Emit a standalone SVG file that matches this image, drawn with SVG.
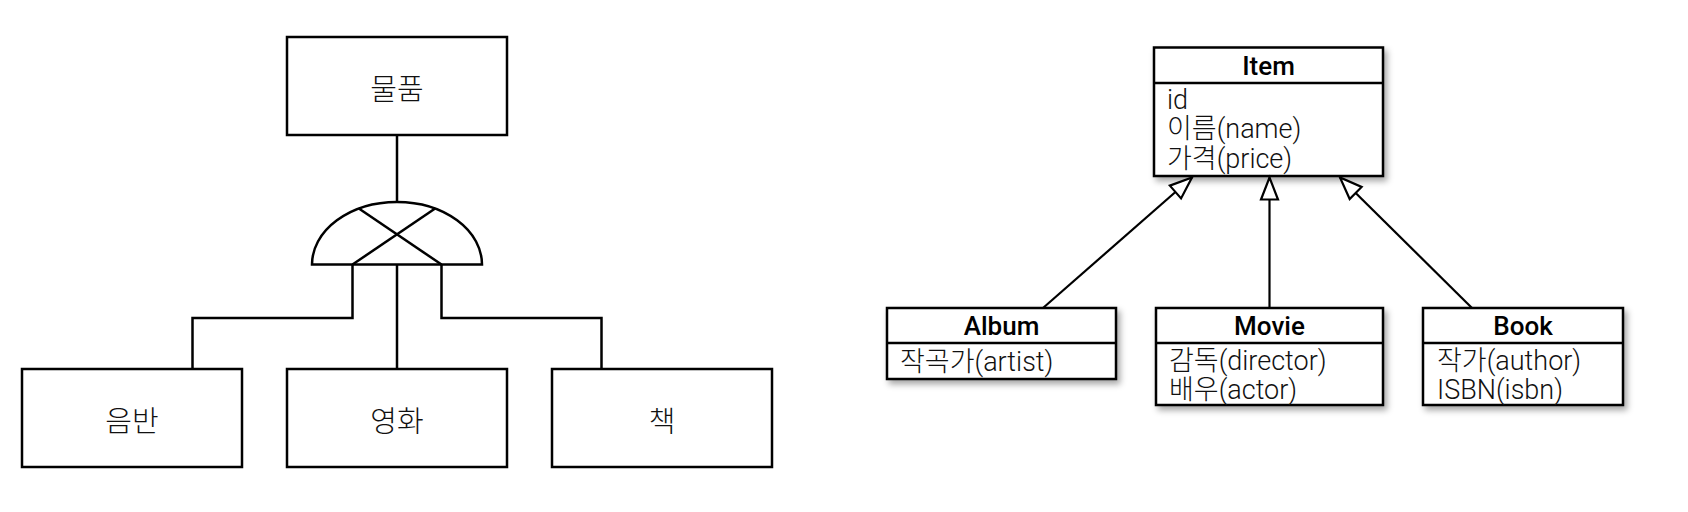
<svg xmlns="http://www.w3.org/2000/svg" width="1688" height="512" viewBox="0 0 1688 512">
  <style>
    .box { fill: #ffffff; stroke: #000000; stroke-width: 2.5; }
    .ln { fill: none; stroke: #000000; stroke-width: 2.5; }
    .ko { font-family: "Noto Sans CJK KR", sans-serif; font-weight: 300; font-size: 29px; fill: #111111; text-anchor: middle; dominant-baseline: central; }
    .uml { fill: #ffffff; stroke: #000000; stroke-width: 2.5; filter: url(#sh); }
    .div { stroke: #000000; stroke-width: 2.5; }
    .hd { font-family: Roboto, "Liberation Sans", "Noto Sans CJK KR", sans-serif; font-weight: 500; font-size: 26px; fill: #000000; text-anchor: middle; }
    .at { font-family: Roboto, "Liberation Sans", "Noto Sans CJK KR", sans-serif; font-weight: 300; font-size: 27px; fill: #111111; }
    .gen { fill: none; stroke: #000000; stroke-width: 2.2; marker-end: url(#tri); }
  </style>
  <defs>
    <filter id="sh" x="-10%" y="-10%" width="130%" height="140%">
      <feDropShadow dx="3" dy="4" stdDeviation="3" flood-color="#000000" flood-opacity="0.35"/>
    </filter>
    <marker id="tri" markerUnits="userSpaceOnUse" markerWidth="30" markerHeight="24" refX="23" refY="9.5" orient="auto" overflow="visible">
      <path d="M1,1 L23,9.5 L1,18 Z" fill="#ffffff" stroke="#000000" stroke-width="2.2" stroke-linejoin="miter"/>
    </marker>
  </defs>

  <!-- Left: ER-style subtype diagram -->
  <g id="connectors-left">
    <line class="ln" x1="397" y1="135" x2="397" y2="202"/>
    <polyline class="ln" points="352.5,264.5 352.5,318 192.5,318 192.5,369"/>
    <line class="ln" x1="397" y1="264.5" x2="397" y2="369"/>
    <polyline class="ln" points="441.5,264.5 441.5,318 601.5,318 601.5,369"/>
  </g>

  <g id="subtype-symbol">
    <path class="box" d="M312,264.5 A85,62.5 0 0 1 482,264.5 Z"/>
    <line class="ln" x1="358.5" y1="208.3" x2="441.5" y2="264.5"/>
    <line class="ln" x1="435.5" y1="208.3" x2="352.5" y2="264.5"/>
  </g>

  <g id="node-goods">
    <rect class="box" x="287" y="37" width="220" height="98"/>
    <text class="ko" x="397" y="87">물품</text>
  </g>
  <g id="node-album-ko">
    <rect class="box" x="22" y="369" width="220" height="98"/>
    <text class="ko" x="132" y="419">음반</text>
  </g>
  <g id="node-movie-ko">
    <rect class="box" x="287" y="369" width="220" height="98"/>
    <text class="ko" x="397" y="419">영화</text>
  </g>
  <g id="node-book-ko">
    <rect class="box" x="552" y="369" width="220" height="98"/>
    <text class="ko" x="662" y="419">책</text>
  </g>

  <!-- Right: UML class diagram -->
  <g id="node-item">
    <rect class="uml" x="1154" y="47.5" width="229" height="128.5"/>
    <line class="div" x1="1154" y1="83" x2="1383" y2="83"/>
    <text class="hd" x="1268.5" y="75">Item</text>
    <text class="at" x="1167" y="108.5">id</text>
    <text class="at" x="1167" y="138">이름(name)</text>
    <text class="at" x="1167" y="167.5">가격(price)</text>
  </g>
  <g id="node-album">
    <rect class="uml" x="887" y="308" width="229" height="71"/>
    <line class="div" x1="887" y1="343" x2="1116" y2="343"/>
    <text class="hd" x="1001.5" y="334.5">Album</text>
    <text class="at" x="900" y="371">작곡가(artist)</text>
  </g>
  <g id="node-movie">
    <rect class="uml" x="1156" y="308" width="227" height="97"/>
    <line class="div" x1="1156" y1="343" x2="1383" y2="343"/>
    <text class="hd" x="1269.5" y="334.5">Movie</text>
    <text class="at" x="1169" y="369.5">감독(director)</text>
    <text class="at" x="1169" y="399">배우(actor)</text>
  </g>
  <g id="node-book">
    <rect class="uml" x="1423" y="308" width="200" height="97"/>
    <line class="div" x1="1423" y1="343" x2="1623" y2="343"/>
    <text class="hd" x="1523" y="334.5">Book</text>
    <text class="at" x="1437" y="369.5">작가(author)</text>
    <text class="at" x="1437" y="399">ISBN(isbn)</text>
  </g>

  <g id="connectors-uml">
    <line class="gen" x1="1043" y1="308" x2="1192" y2="177.5"/>
    <line class="gen" x1="1269.5" y1="308" x2="1269.5" y2="177.5"/>
    <line class="gen" x1="1472" y1="308" x2="1340" y2="177.5"/>
  </g>
</svg>
